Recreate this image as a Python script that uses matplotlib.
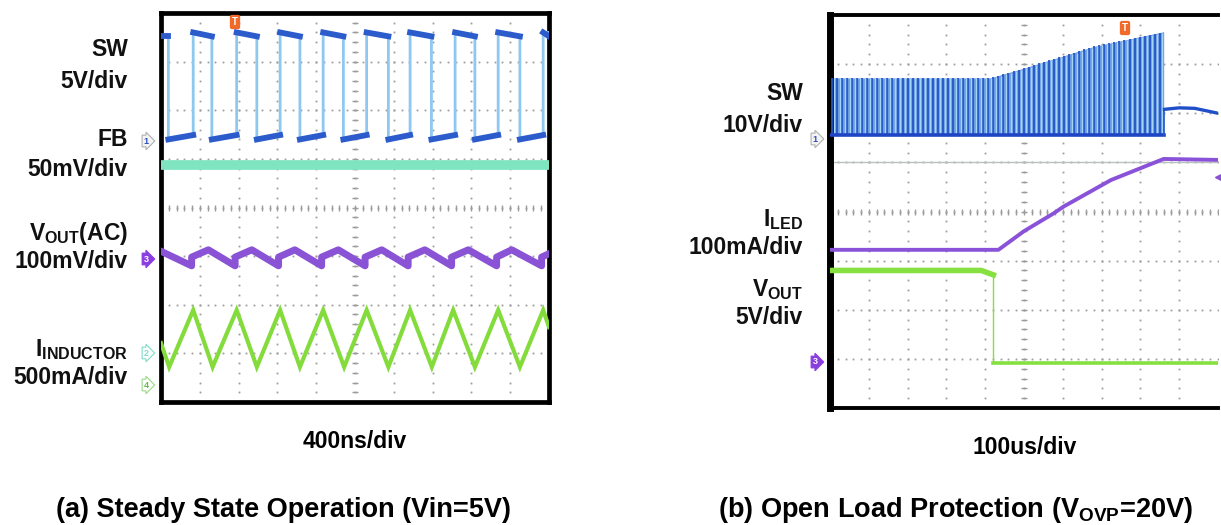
import numpy as np
import matplotlib
matplotlib.use("Agg")
import matplotlib.pyplot as plt

plt.rcParams['font.family'] = ['Liberation Sans', 'DejaVu Sans']
plt.rcParams['mathtext.fontset'] = 'custom'
plt.rcParams['mathtext.rm'] = 'Liberation Sans:bold'
plt.rcParams['mathtext.it'] = 'Liberation Sans:bold'
plt.rcParams['mathtext.bf'] = 'Liberation Sans:bold'

W, H = 1221, 525

# ---------------- panel (a): steady state, values in scope divisions ----------------
sw_rise = [0.83, 1.95, 3.07, 4.18, 5.30, 6.42, 7.58, 8.69, 9.85]
sw_fall = [0.19, 1.31, 2.47, 3.58, 4.70, 5.86, 6.97, 8.09, 9.25]
sw_high = (7.60, 7.52)   # level just after rise, just before fall
sw_low = (5.40, 5.49)    # level just after fall, just before rise

fb_x = [0.0, 10.0]
fb_y = [4.88, 4.88]

vout_jump_x = [0.79, 1.91, 3.03, 4.14, 5.26, 6.37, 7.49, 8.65, 9.81]
vout_peak_x = [1.22, 2.34, 3.45, 4.57, 5.69, 6.80, 7.92, 9.04]
vout_start, vout_end = 3.10, 3.05
vout_low, vout_jump, vout_top = 2.80, 2.98, 3.13

il_trough_x = [0.21, 1.33, 2.47, 3.58, 4.72, 5.86, 6.98, 8.09, 9.25]
il_peak_x = [0.83, 1.95, 3.07, 4.18, 5.30, 6.42, 7.53, 8.69, 9.85]
il_start, il_end = 1.21, 1.54
il_low, il_high = 0.72, 1.89

# ---------------- panel (b): open load protection ----------------
swb_low = 5.56
swb_env_x = [0.0, 4.13, 5.0, 6.8, 8.60]
swb_env_y = [6.72, 6.72, 6.92, 7.36, 7.66]
swb_period = 0.13
swb_after_x = [8.62, 9.0, 9.4, 10.0]
swb_after_y = [6.08, 6.11, 6.10, 6.00]

iled_x = [0.0, 4.34, 5.0, 5.76, 6.02, 7.24, 8.60, 10.0]
iled_y = [3.22, 3.22, 3.60, 3.96, 4.10, 4.64, 5.07, 5.05]

voutb_x = [0.0, 3.9, 4.21, 4.21, 10.0]
voutb_y = [2.80, 2.80, 2.71, 0.91, 0.91]

grid_color = '#9c9c9c'


def add_px_axes(fig, x0, y0, x1, y1):
    ax = fig.add_axes([x0 / W, 1 - y1 / H, (x1 - x0) / W, (y1 - y0) / H])
    ax.set_xlim(0, 10)
    ax.set_ylim(0, 8)
    ax.set_xticks([])
    ax.set_yticks([])
    return ax


def draw_grid(ax):
    xs = np.arange(0, 10.01, 0.2)
    ys = np.arange(0, 8.01, 0.2)
    for i in range(1, 10):
        ax.plot([i] * len(ys), ys, ls='none', marker='s', ms=1.3, mec='none', color=grid_color, zorder=1)
    for j in range(1, 8):
        ax.plot(xs, [j] * len(xs), ls='none', marker='s', ms=1.3, mec='none', color=grid_color, zorder=1)
    ax.plot([5] * len(ys), ys, ls='none', marker='_', ms=5, mew=1, color=grid_color, zorder=1)
    ax.plot(xs, [4] * len(xs), ls='none', marker='|', ms=5, mew=1, color=grid_color, zorder=1)


def fig_text(fig, x, y, s, **kw):
    fig.text(x / W, 1 - y / H, s, **kw)


def marker(fig, x, y, s, face, edge, tc):
    fig_text(fig, x, y, s, ha='center', va='center', fontsize=6.5, color=tc, fontweight='bold',
             bbox=dict(boxstyle='rarrow,pad=0.15', fc=face, ec=edge, lw=0.8))


fig = plt.figure(figsize=(W / 100, H / 100), dpi=100)

# ---------------- panel (a) ----------------
ax = add_px_axes(fig, 161, 13, 549, 402)
for sp in ax.spines.values():
    sp.set_linewidth(3.4)
    sp.set_color('black')
draw_grid(ax)

events = sorted([(x, 'r') for x in sw_rise] + [(x, 'f') for x in sw_fall])
px, py = [0.0], [sw_high[1]]
for x, kind in events:
    if kind == 'f':
        px += [x, x]
        py += [sw_high[1], sw_low[0]]
    else:
        px += [x, x]
        py += [sw_low[1], sw_high[0]]
px.append(10.0)
py.append(sw_high[0])
ax.plot(px, py, color='#8ec8f0', lw=2, zorder=3)
# dark plateaus
ax.plot([0.0, sw_fall[0]], [sw_high[1], sw_high[1]], color='#2c5ccc', lw=4.2, zorder=4)
for r in sw_rise:
    nxt = [f for f in sw_fall if f > r]
    end = nxt[0] if nxt else 10.0
    ax.plot([r, end], list(sw_high), color='#2c5ccc', lw=4.2, zorder=4)
for f in sw_fall:
    nxt = [r for r in sw_rise if r > f]
    end = nxt[0] if nxt else 10.0
    ax.plot([f, end], list(sw_low), color='#2c5ccc', lw=4.2, zorder=4)

ax.plot(fb_x, fb_y, color='#7fe5c0', lw=7, solid_capstyle='butt', zorder=3)

vx, vy = [0.0], [vout_start]
for k, jx in enumerate(vout_jump_x):
    vx += [jx, jx]
    vy += [vout_low, vout_jump]
    if k < len(vout_peak_x):
        vx.append(vout_peak_x[k])
        vy.append(vout_top)
vx.append(10.0)
vy.append(vout_end)
ax.plot(vx, vy, color='#8a52d4', lw=5, solid_joinstyle='round', zorder=3)

ix, iy = [0.0], [il_start]
for t, p in zip(il_trough_x, il_peak_x):
    ix += [t, p]
    iy += [il_low, il_high]
ix.append(10.0)
iy.append(il_end)
ax.plot(ix, iy, color='#84dc3c', lw=3, solid_joinstyle='miter', zorder=3)

lab = dict(ha='right', va='center', fontsize=16.5, fontweight='bold', color='#111111')
fig_text(fig, 128, 49, 'SW', **lab)
fig_text(fig, 128, 81, '5V/div', **lab)
fig_text(fig, 128, 140, 'FB', **lab)
fig_text(fig, 128, 170, '50mV/div', **lab)
fig_text(fig, 128, 233, r'V$_{\mathrm{OUT}}$(AC)', **lab)
fig_text(fig, 128, 262, '100mV/div', **lab)
fig_text(fig, 128, 350, r'I$_{\mathrm{INDUCTOR}}$', **lab)
fig_text(fig, 128, 377, '500mA/div', **lab)

marker(fig, 146, 141, '1', '#f4f4f4', '#b0b0b0', '#3050c0')
marker(fig, 146, 259, '3', '#8a3ee0', '#8a3ee0', 'white')
marker(fig, 146, 353, '2', 'white', '#7fdcc8', '#7fdcc8')
marker(fig, 146, 385, '4', 'white', '#9ad88a', '#5cc040')
fig_text(fig, 235, 22, 'T', ha='center', va='center', fontsize=7, color='white', fontweight='bold',
         bbox=dict(boxstyle='round,pad=0.15', fc='#f06a2a', ec='#f06a2a'))

fig_text(fig, 355, 441, '400ns/div', ha='center', va='center', fontsize=16.5, fontweight='bold')
fig_text(fig, 283, 510, '(a) Steady State Operation (Vin=5V)', ha='center', va='center',
         fontsize=19.5, fontweight='bold')

# ---------------- panel (b) ----------------
bx = add_px_axes(fig, 830, 15, 1218, 408)
for side, sp in bx.spines.items():
    sp.set_color('black')
    sp.set_linewidth(2.8)
bx.spines['left'].set_linewidth(5)
bx.spines['right'].set_visible(False)
draw_grid(bx)
bx.axhline(5, color='#b8c0c0', lw=1, zorder=1)

pulse_x = np.arange(0.05, swb_env_x[-1], swb_period)
pulse_top = np.interp(pulse_x, swb_env_x, swb_env_y)
bx.fill_between(swb_env_x, swb_low, swb_env_y, color='#6a9ae0', lw=0, zorder=2)
bx.vlines(pulse_x, swb_low, pulse_top, color='#2456c8', lw=1.3, zorder=3)
bx.vlines(pulse_x + swb_period / 2, swb_low, pulse_top, color='#a4d6f4', lw=1.0, zorder=3)
bx.plot([0, swb_env_x[-1]], [swb_low, swb_low], color='#1f45c4', lw=2.6, zorder=4)
bx.plot([swb_env_x[-1], swb_env_x[-1]], [swb_low, swb_after_y[0]], color='#2456c8', lw=1.2, zorder=4)
bx.plot(swb_after_x, swb_after_y, color='#1f50c8', lw=2.4, zorder=4)

bx.plot(iled_x, iled_y, color='#8a52d8', lw=2.8, zorder=4)
bx.plot([10.0], [4.70], marker='<', ms=5, color='#8a52d8', clip_on=False, zorder=5)

bx.plot(voutb_x[:3], voutb_y[:3], color='#86e040', lw=4, zorder=4)
bx.plot(voutb_x[2:4], voutb_y[2:4], color='#86e040', lw=1, zorder=4)
bx.plot(voutb_x[3:], voutb_y[3:], color='#86e040', lw=2.6, zorder=4)

fig_text(fig, 803, 93, 'SW', **lab)
fig_text(fig, 803, 125, '10V/div', **lab)
fig_text(fig, 803, 220, r'I$_{\mathrm{LED}}$', **lab)
fig_text(fig, 803, 247, '100mA/div', **lab)
fig_text(fig, 803, 290, r'V$_{\mathrm{OUT}}$', **lab)
fig_text(fig, 803, 317, '5V/div', **lab)

marker(fig, 815, 139, '1', '#f4f4f4', '#b0b0b0', '#3050c0')
marker(fig, 815, 362, '3', '#8a3ee0', '#8a3ee0', 'white')
fig_text(fig, 1125, 28, 'T', ha='center', va='center', fontsize=7, color='white', fontweight='bold',
         bbox=dict(boxstyle='round,pad=0.15', fc='#f06a2a', ec='#f06a2a'))

fig_text(fig, 1025, 447, '100us/div', ha='center', va='center', fontsize=16.5, fontweight='bold')
fig_text(fig, 955, 510, r'(b) Open Load Protection (V$_{\mathrm{OVP}}$=20V)', ha='center', va='center',
         fontsize=19.5, fontweight='bold')

fig.savefig('out.png', dpi=100)
